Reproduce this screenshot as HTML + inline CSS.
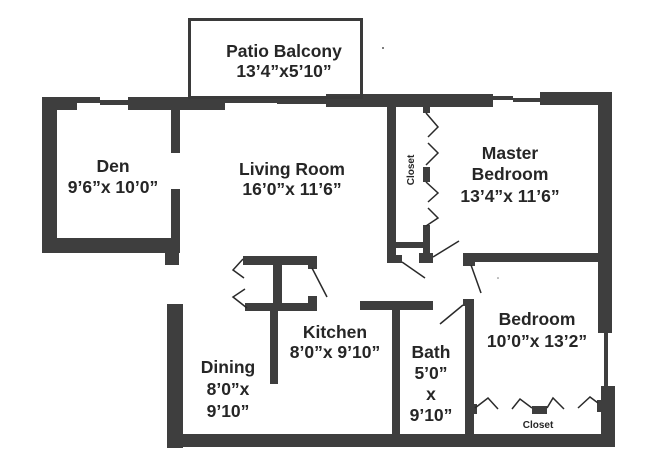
<!DOCTYPE html>
<html><head><meta charset="utf-8"><style>
html,body{margin:0;padding:0;background:#fff;}
svg{display:block;}
text{font-family:"Liberation Sans",Arial,sans-serif;font-weight:bold;fill:#262626;}
</style></head><body>
<svg width="670" height="456" viewBox="0 0 670 456" xmlns="http://www.w3.org/2000/svg">
<g fill="#3e3e3e">
<!-- top wall -->
<rect x="42" y="97" width="35" height="13"/>
<rect x="77" y="97" width="23" height="6"/>
<rect x="100" y="100" width="28" height="5"/>
<rect x="128" y="97" width="97" height="13"/>
<rect x="225" y="98" width="52" height="5"/>
<rect x="277" y="99" width="49" height="5"/>
<rect x="326" y="94" width="167" height="13"/>
<rect x="493" y="96" width="20" height="4"/>
<rect x="513" y="98" width="27" height="4"/>
<rect x="540" y="92" width="72" height="13"/>
<!-- left / den -->
<rect x="42" y="97" width="15" height="156"/>
<rect x="42" y="238" width="137" height="15"/>
<rect x="171" y="108" width="9" height="45"/>
<rect x="171" y="189" width="9" height="64"/>
<rect x="165" y="238" width="14" height="27"/>
<!-- dining left + bottom -->
<rect x="167" y="304" width="16" height="144"/>
<rect x="167" y="434" width="448" height="13"/>
<!-- right wall -->
<rect x="598" y="92" width="14" height="241"/>
<rect x="604" y="333" width="4" height="53"/>
<rect x="601" y="386" width="14" height="61"/>
<rect x="597" y="400" width="6" height="12"/>
<!-- master closet -->
<rect x="387" y="106" width="9" height="142"/>
<rect x="387" y="242" width="43" height="6"/>
<rect x="387" y="248" width="9" height="15"/>
<rect x="390" y="255" width="12" height="8"/>
<rect x="423" y="242" width="7" height="12"/>
<rect x="419" y="253" width="14" height="10"/>
<rect x="423" y="106" width="7" height="7"/>
<rect x="423" y="167" width="7" height="15"/>
<rect x="423" y="225" width="7" height="17"/>
<!-- bedroom top wall -->
<rect x="463" y="253" width="137" height="9"/>
<rect x="463" y="262" width="12" height="4"/>
<!-- bath/bedroom wall -->
<rect x="465" y="299" width="9" height="135"/>
<rect x="463" y="299" width="5" height="7"/>
<!-- kitchen/bath -->
<rect x="360" y="301" width="73" height="9"/>
<rect x="392" y="309" width="8" height="125"/>
<!-- kitchen structure -->
<rect x="243" y="256" width="74" height="9"/>
<rect x="308" y="265" width="9" height="4"/>
<rect x="273" y="256" width="9" height="47"/>
<rect x="245" y="303" width="72" height="8"/>
<rect x="308" y="296" width="9" height="7"/>
<rect x="270" y="303" width="8" height="81"/>
<!-- bedroom closet -->
<rect x="472" y="404" width="5" height="10"/>
<rect x="532" y="406" width="15" height="8"/>
</g>
<!-- patio -->
<rect x="189.5" y="19.5" width="172" height="78" fill="none" stroke="#3a3a3a" stroke-width="3"/>
<g fill="none" stroke="#2a2a2a" stroke-width="1.5">
<!-- master closet bifolds -->
<polyline points="426,113 438,127 428,137"/>
<polyline points="428,143 438,153 426,165"/>
<polyline points="426,182 438,193 428,202"/>
<polyline points="428,208 438,218 426,226"/>
<!-- door swings -->
<line x1="402" y1="262" x2="425" y2="278"/>
<line x1="433" y1="257" x2="459" y2="241"/>
<line x1="471" y1="265" x2="481" y2="293"/>
<line x1="463" y1="305" x2="440" y2="324"/>
<line x1="312" y1="268" x2="327" y2="297"/>
<!-- kitchen bifolds -->
<polyline points="243,259 233,270 244,278"/>
<polyline points="245,289 233,297 247,308"/>
<!-- bedroom closet -->
<polyline points="475,408 488,398 498,409"/>
<polyline points="512,409 520,399 532,408"/>
<polyline points="547,408 553,398 564,409"/>
<polyline points="578,408 590,397 598,403"/>
</g>
<circle cx="383" cy="48" r="1" fill="#555"/>
<circle cx="498" cy="278" r="0.8" fill="#777"/>
<g font-size="17.5" text-anchor="middle">
<text x="284" y="57">Patio Balcony</text>
<text x="284" y="77">13’4”x5’10”</text>
<text x="113" y="172">Den</text>
<text x="113" y="193">9’6”x 10’0”</text>
<text x="292" y="175">Living Room</text>
<text x="292" y="195">16’0”x 11’6”</text>
<text x="510" y="159">Master</text>
<text x="510" y="180">Bedroom</text>
<text x="510" y="202">13’4”x 11’6”</text>
<text x="335" y="338">Kitchen</text>
<text x="335" y="358">8’0”x 9’10”</text>
<text x="228" y="373">Dining</text>
<text x="228" y="395">8’0”x</text>
<text x="228" y="417">9’10”</text>
<text x="431" y="358">Bath</text>
<text x="431" y="379">5’0”</text>
<text x="431" y="400">x</text>
<text x="431" y="421">9’10”</text>
<text x="537" y="325">Bedroom</text>
<text x="537" y="347">10’0”x 13’2”</text>
</g>
<text x="538" y="428" font-size="10" text-anchor="middle">Closet</text>
<text x="0" y="0" font-size="10" text-anchor="middle" transform="translate(414,170) rotate(-90)">Closet</text>
</svg>
</body></html>
